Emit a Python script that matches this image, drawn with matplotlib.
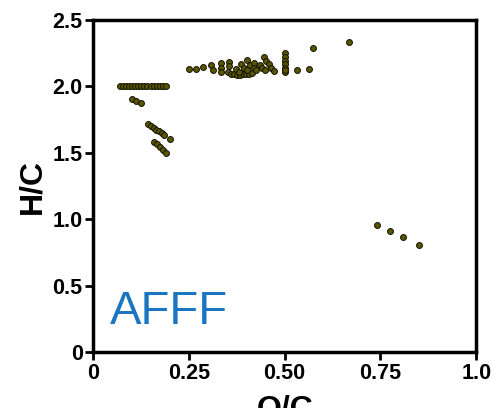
import matplotlib
matplotlib.use("Agg")
import matplotlib.pyplot as plt

# O/C and H/C ratios of the AFFF compounds, grouped by series
oc_row = [0.070, 0.078, 0.086, 0.094, 0.102, 0.110, 0.118, 0.126, 0.134,
          0.142, 0.150, 0.158, 0.166, 0.174, 0.182, 0.190]
hc_row = [2.0] * len(oc_row)

oc_a = [0.101, 0.112, 0.124]
hc_a = [1.905, 1.890, 1.877]

oc_b = [0.144, 0.151, 0.158, 0.165, 0.172, 0.179, 0.186, 0.201]
hc_b = [1.717, 1.703, 1.689, 1.675, 1.661, 1.647, 1.633, 1.604]

oc_c = [0.158, 0.166, 0.174, 0.182, 0.190]
hc_c = [1.584, 1.563, 1.542, 1.522, 1.501]

oc_d = [0.251, 0.269, 0.288, 0.308, 0.314, 0.334, 0.334, 0.334,
        0.356, 0.355, 0.352, 0.360, 0.368, 0.376, 0.384, 0.392, 0.400,
        0.408, 0.416, 0.372, 0.380, 0.386, 0.394, 0.402, 0.403, 0.410,
        0.419, 0.420, 0.425, 0.435, 0.440, 0.448, 0.445, 0.452, 0.458,
        0.465, 0.472, 0.502, 0.502, 0.502, 0.502, 0.502, 0.502, 0.502,
        0.532, 0.564, 0.573, 0.668]
hc_d = [2.129, 2.134, 2.145, 2.158, 2.125, 2.174, 2.141, 2.108,
        2.185, 2.150, 2.112, 2.095, 2.090, 2.085, 2.088, 2.092, 2.090,
        2.095, 2.100, 2.130, 2.110, 2.166, 2.140, 2.120, 2.199, 2.160,
        2.174, 2.140, 2.120, 2.160, 2.140, 2.120, 2.224, 2.190, 2.165,
        2.140, 2.115, 2.254, 2.224, 2.193, 2.166, 2.136, 2.105, 2.120,
        2.120, 2.130, 2.286, 2.334]

oc_e = [0.741, 0.775, 0.810, 0.852]
hc_e = [0.959, 0.911, 0.863, 0.806]

x_ticks = [0, 0.25, 0.50, 0.75, 1.0]
x_labels = ["0", "0.25", "0.50", "0.75", "1.0"]
y_ticks = [0, 0.5, 1.0, 1.5, 2.0, 2.5]
y_labels = ["0", "0.5", "1.0", "1.5", "2.0", "2.5"]

plt.rcParams["font.family"] = ["Liberation Sans", "DejaVu Sans"]

fig = plt.figure(figsize=(4.95, 4.08), dpi=100)
ax = fig.add_axes([0.188, 0.137, 0.774, 0.814])

oc_all = oc_row + oc_a + oc_b + oc_c + oc_d + oc_e
hc_all = hc_row + hc_a + hc_b + hc_c + hc_d + hc_e
ax.scatter(oc_all, hc_all, s=18, facecolor="#5a5600", edgecolor="#111100",
           linewidth=0.7, zorder=3)

ax.set_xlim(0, 1.0)
ax.set_ylim(0, 2.5)
ax.set_xticks(x_ticks)
ax.set_xticklabels(x_labels)
ax.set_yticks(y_ticks)
ax.set_yticklabels(y_labels)

for s in ax.spines.values():
    s.set_linewidth(2.5)
ax.tick_params(axis="both", direction="out", length=6, width=2,
               labelsize=15.5, pad=1.5)
for lab in ax.get_xticklabels() + ax.get_yticklabels():
    lab.set_fontweight("bold")

ax.set_ylabel("H/C", fontsize=23, fontweight="bold", labelpad=4)
ax.set_xlabel("O/C", fontsize=23, fontweight="bold", labelpad=8)

ax.text(0.044, 0.215, "AFFF", fontsize=34, color="#1a76c0",
        transform=ax.transData, ha="left", va="baseline")

fig.savefig("out.png", dpi=100)
